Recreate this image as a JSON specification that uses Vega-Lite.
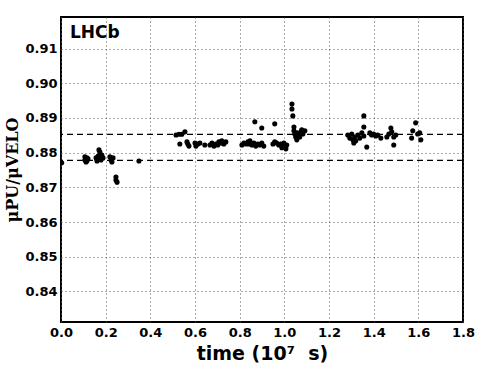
{
  "$schema": "https://vega.github.io/schema/vega-lite/v6.json",
  "width": 402,
  "height": 305,
  "autosize": {"type": "none"},
  "padding": {"left": 61, "top": 17, "right": 16, "bottom": 44},
  "background": "white",
  "config": {
    "view": {"stroke": "black", "strokeWidth": 2},
    "font": "DejaVu Sans"
  },
  "datasets": {
    "points": [
      {"time": 0.003, "value": 0.8771},
      {"time": 0.107, "value": 0.8788}, {"time": 0.107, "value": 0.8779}, {"time": 0.112, "value": 0.8773},
      {"time": 0.116, "value": 0.8785}, {"time": 0.116, "value": 0.8776}, {"time": 0.121, "value": 0.8782},
      {"time": 0.157, "value": 0.8785}, {"time": 0.161, "value": 0.8776}, {"time": 0.166, "value": 0.879},
      {"time": 0.17, "value": 0.8808}, {"time": 0.174, "value": 0.8802}, {"time": 0.174, "value": 0.8788},
      {"time": 0.179, "value": 0.8779}, {"time": 0.183, "value": 0.8793}, {"time": 0.166, "value": 0.8782},
      {"time": 0.188, "value": 0.8785},
      {"time": 0.219, "value": 0.8788}, {"time": 0.224, "value": 0.8779}, {"time": 0.228, "value": 0.8773},
      {"time": 0.233, "value": 0.8785},
      {"time": 0.246, "value": 0.873}, {"time": 0.246, "value": 0.8721}, {"time": 0.251, "value": 0.8715},
      {"time": 0.349, "value": 0.8776},
      {"time": 0.515, "value": 0.8851}, {"time": 0.528, "value": 0.8853}, {"time": 0.541, "value": 0.8853},
      {"time": 0.555, "value": 0.886}, {"time": 0.532, "value": 0.8825}, {"time": 0.564, "value": 0.8831},
      {"time": 0.568, "value": 0.8825}, {"time": 0.573, "value": 0.8819}, {"time": 0.6, "value": 0.8828},
      {"time": 0.604, "value": 0.8819}, {"time": 0.613, "value": 0.8825}, {"time": 0.622, "value": 0.8828},
      {"time": 0.644, "value": 0.8822}, {"time": 0.667, "value": 0.8822}, {"time": 0.676, "value": 0.8828},
      {"time": 0.685, "value": 0.8819}, {"time": 0.694, "value": 0.8825}, {"time": 0.702, "value": 0.8822},
      {"time": 0.707, "value": 0.8831}, {"time": 0.716, "value": 0.8828}, {"time": 0.72, "value": 0.8834},
      {"time": 0.729, "value": 0.8825}, {"time": 0.738, "value": 0.8831},
      {"time": 0.81, "value": 0.8822}, {"time": 0.819, "value": 0.8828}, {"time": 0.828, "value": 0.8825},
      {"time": 0.837, "value": 0.8831}, {"time": 0.846, "value": 0.8834}, {"time": 0.855, "value": 0.8822},
      {"time": 0.864, "value": 0.8828}, {"time": 0.872, "value": 0.8819}, {"time": 0.881, "value": 0.8825},
      {"time": 0.89, "value": 0.8822}, {"time": 0.899, "value": 0.8828}, {"time": 0.908, "value": 0.8819},
      {"time": 0.868, "value": 0.8889}, {"time": 0.899, "value": 0.8871}, {"time": 0.841, "value": 0.8825},
      {"time": 0.957, "value": 0.8883}, {"time": 0.949, "value": 0.8825}, {"time": 0.957, "value": 0.8831},
      {"time": 0.966, "value": 0.8828}, {"time": 0.975, "value": 0.8822}, {"time": 0.984, "value": 0.8825},
      {"time": 0.993, "value": 0.8819}, {"time": 0.998, "value": 0.8828}, {"time": 1.002, "value": 0.8816},
      {"time": 1.007, "value": 0.8811}, {"time": 0.989, "value": 0.8814}, {"time": 1.011, "value": 0.8822},
      {"time": 1.034, "value": 0.894}, {"time": 1.034, "value": 0.8926}, {"time": 1.038, "value": 0.8906},
      {"time": 1.043, "value": 0.8874}, {"time": 1.043, "value": 0.8863}, {"time": 1.047, "value": 0.8854},
      {"time": 1.051, "value": 0.8845}, {"time": 1.056, "value": 0.8837}, {"time": 1.056, "value": 0.8857},
      {"time": 1.065, "value": 0.8851}, {"time": 1.074, "value": 0.886}, {"time": 1.083, "value": 0.8854},
      {"time": 1.092, "value": 0.8863}, {"time": 1.069, "value": 0.8845}, {"time": 1.078, "value": 0.8866},
      {"time": 1.284, "value": 0.8851}, {"time": 1.293, "value": 0.8842}, {"time": 1.302, "value": 0.8854},
      {"time": 1.307, "value": 0.8837}, {"time": 1.311, "value": 0.8828}, {"time": 1.315, "value": 0.8845},
      {"time": 1.32, "value": 0.8834}, {"time": 1.329, "value": 0.8851}, {"time": 1.338, "value": 0.8842},
      {"time": 1.347, "value": 0.8857}, {"time": 1.356, "value": 0.8906}, {"time": 1.356, "value": 0.8874},
      {"time": 1.369, "value": 0.8816}, {"time": 1.356, "value": 0.8848},
      {"time": 1.383, "value": 0.8857}, {"time": 1.391, "value": 0.8851}, {"time": 1.4, "value": 0.8854},
      {"time": 1.409, "value": 0.8848}, {"time": 1.418, "value": 0.8851}, {"time": 1.432, "value": 0.8842},
      {"time": 1.459, "value": 0.8845}, {"time": 1.468, "value": 0.8854}, {"time": 1.477, "value": 0.8871},
      {"time": 1.481, "value": 0.886}, {"time": 1.49, "value": 0.8845}, {"time": 1.49, "value": 0.8822},
      {"time": 1.499, "value": 0.8851},
      {"time": 1.57, "value": 0.8842}, {"time": 1.575, "value": 0.8863}, {"time": 1.588, "value": 0.8886},
      {"time": 1.597, "value": 0.8854}, {"time": 1.606, "value": 0.8857}, {"time": 1.611, "value": 0.8837}
    ],
    "refs": [{"level": 0.8853}, {"level": 0.8778}],
    "label": [{"time": 0.04, "value": 0.913, "text": "LHCb"}]
  },
  "layer": [
    {
      "data": {"name": "points"},
      "mark": {"type": "circle", "size": 26, "color": "black", "opacity": 1, "clip": true},
      "encoding": {
        "x": {
          "field": "time", "type": "quantitative",
          "scale": {"domain": [0, 1.8], "nice": false, "zero": false},
          "axis": {
            "values": [0, 0.2, 0.4, 0.6, 0.8, 1.0, 1.2, 1.4, 1.6, 1.8],
            "format": ".1f",
            "title": "time (10⁷\u00a0 s)",
            "titleFont": "DejaVu Sans", "titleFontSize": 19, "titleFontWeight": "bold", "titleColor": "black",
            "titlePadding": 5,
            "labelFont": "DejaVu Sans", "labelFontSize": 13, "labelFontWeight": "bold", "labelColor": "black",
            "labelPadding": 4, "labelFlush": false, "labelOverlap": false,
            "ticks": false, "domain": false,
            "grid": true, "gridColor": "#555555", "gridDash": [1, 3], "gridWidth": 1, "gridOpacity": 1
          }
        },
        "y": {
          "field": "value", "type": "quantitative",
          "scale": {"domain": [0.8312, 0.9191], "nice": false, "zero": false},
          "axis": {
            "values": [0.84, 0.85, 0.86, 0.87, 0.88, 0.89, 0.9, 0.91],
            "format": ".2f",
            "title": "μPU/μVELO",
            "titleFont": "DejaVu Serif", "titleFontSize": 16, "titleFontWeight": "bold", "titleColor": "black",
            "titlePadding": 4,
            "labelFont": "DejaVu Sans", "labelFontSize": 13, "labelFontWeight": "bold", "labelColor": "black",
            "labelPadding": 4, "labelFlush": false, "labelOverlap": false,
            "ticks": false, "domain": false,
            "grid": true, "gridColor": "#555555", "gridDash": [1, 3], "gridWidth": 1, "gridOpacity": 1
          }
        }
      }
    },
    {
      "data": {"name": "refs"},
      "mark": {"type": "rule", "strokeDash": [6, 4], "color": "black", "strokeWidth": 1.3},
      "encoding": {"y": {"field": "level", "type": "quantitative"}}
    },
    {
      "data": {"name": "label"},
      "mark": {"type": "text", "align": "left", "baseline": "alphabetic", "fontSize": 17, "fontWeight": "bold", "font": "DejaVu Sans", "color": "black"},
      "encoding": {
        "x": {"field": "time", "type": "quantitative"},
        "y": {"field": "value", "type": "quantitative"},
        "text": {"field": "text"}
      }
    }
  ]
}
